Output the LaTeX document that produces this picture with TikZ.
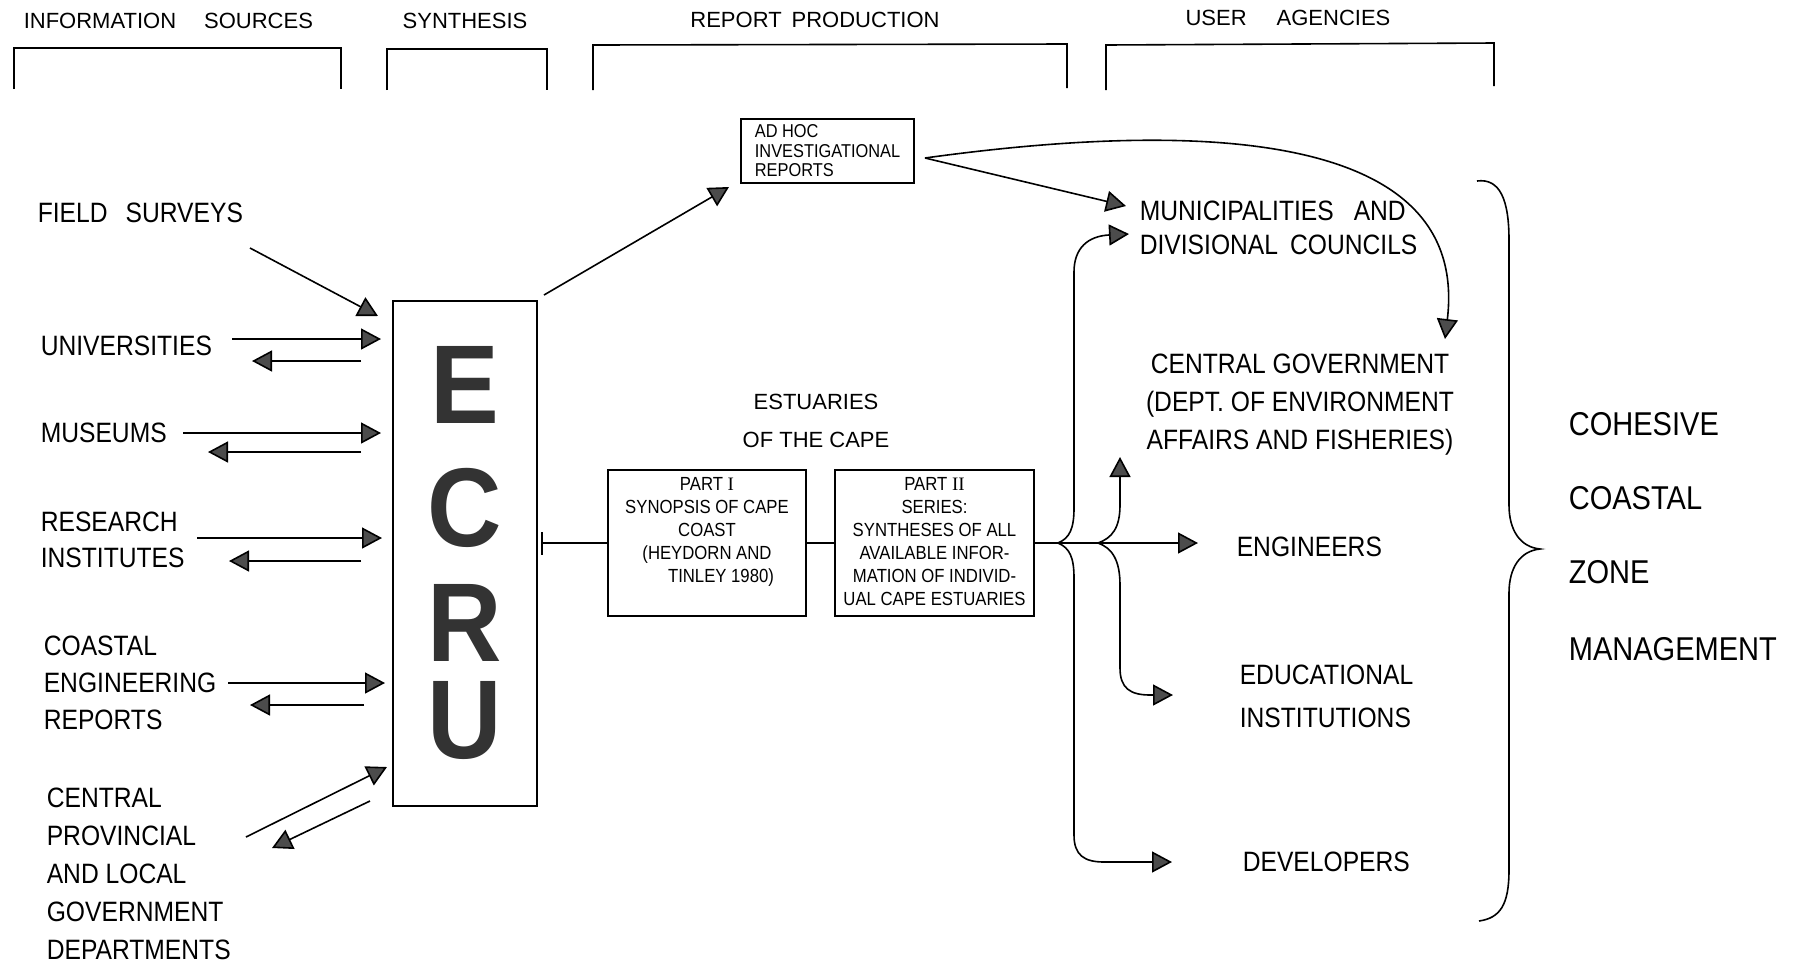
\documentclass[tikz,border=0pt]{standalone}
\usepackage{fontspec}
\setmainfont{Liberation Sans}[FakeStretch=0.88]
\newfontfamily\hfont{Liberation Sans}
\newfontfamily\efont{Liberation Sans}[FakeStretch=0.92]
\newfontfamily\rmnum{Liberation Serif}
\usetikzlibrary{arrows.meta}
\begin{document}
\begin{tikzpicture}[x=0.5pt,y=-0.5pt, line width=0.8pt,
  >={Triangle[length=10pt,width=10.5pt,fill=black!70]},
  lbl/.style={inner sep=0pt, anchor=west, align=left, font=\fontsize{14}{18}\selectfont},
  hdr/.style={inner sep=0pt, font=\hfont\fontsize{11}{13}\selectfont},
  box/.style={draw, inner sep=0pt},
  ecru/.style={draw, inner sep=0pt, align=center, text=black!80, font=\efont\bfseries\fontsize{56}{50}\selectfont},
  big/.style={inner sep=0pt, anchor=west, font=\fontsize{16.5}{20}\selectfont},
  small/.style={inner sep=0pt, font=\fontsize{9.5}{11.5}\selectfont}]

\useasboundingbox (0,0) rectangle (1795,965);

% headers
\node[hdr, anchor=west] (h1) at (23,21) {INFORMATION\hspace{14pt}SOURCES};
\node[hdr] (h2) at (465,21) {SYNTHESIS};
\node[hdr] (h3) at (815,20) {REPORT\hspace{5pt}PRODUCTION};
\node[hdr] (h4) at (1288,18) {USER\hspace{15pt}AGENCIES};

% header brackets
\draw (14,89) -- (14,48) -- (341,48) -- (341,89);
\draw (387,90) -- (387,49) -- (547,49) -- (547,90);
\draw (593,90) -- (593,45) -- (1067,44) -- (1067,88);
\draw (1106,90) -- (1106,45) -- (1494,43) -- (1494,86);

% ECRU
\node[ecru, minimum width=72pt, minimum height=252.5pt] (ecrubox) at (465,553.5) {E\\[11.5pt]C\\[7.5pt]R\\[-1.5pt]U};

% left labels
\node[lbl] (fs) at (37,213) {FIELD\hspace{9pt}SURVEYS};
\node[lbl] (uni) at (40,346) {UNIVERSITIES};
\node[lbl] (mus) at (40,433) {MUSEUMS};
\node[lbl, font=\fontsize{14}{18}\selectfont] (res) at (40,540) {RESEARCH\\INSTITUTES};
\node[lbl, font=\fontsize{14}{18.5}\selectfont] (coa) at (43,683) {COASTAL\\ENGINEERING\\REPORTS};
\node[lbl, font=\fontsize{14}{19}\selectfont] (cen) at (46,874) {CENTRAL\\PROVINCIAL\\AND LOCAL\\GOVERNMENT\\DEPARTMENTS};

% left arrows
\coordinate (fsA) at (250,248); \coordinate (fsB) at (378,316);
\coordinate (uA) at (232,339); \coordinate (uB) at (381,339);
\coordinate (uC) at (361,361); \coordinate (uD) at (252,361);
\coordinate (mA) at (183,433); \coordinate (mB) at (381,433);
\coordinate (mC) at (361,452); \coordinate (mD) at (208,452);
\coordinate (rA) at (197,538); \coordinate (rB) at (382,538);
\coordinate (rC) at (361,561); \coordinate (rD) at (229,561);
\coordinate (cA) at (228,683); \coordinate (cB) at (385,683);
\coordinate (cC) at (364,705); \coordinate (cD) at (250,705);
\coordinate (gA) at (246,837); \coordinate (gB) at (387,767);
\coordinate (gC) at (370,801); \coordinate (gD) at (272,848);
\draw[->] (fsA) -- (fsB);
\draw[->] (uA) -- (uB); \draw[->] (uC) -- (uD);
\draw[->] (mA) -- (mB); \draw[->] (mC) -- (mD);
\draw[->] (rA) -- (rB); \draw[->] (rC) -- (rD);
\draw[->] (cA) -- (cB); \draw[->] (cC) -- (cD);
\draw[->] (gA) -- (gB); \draw[->] (gC) -- (gD);

% ad hoc
\node[box, minimum width=86.5pt, minimum height=32pt, align=left, font=\fontsize{9.3}{9.75}\selectfont] (adhoc) at (827.5,151) {AD HOC\\INVESTIGATIONAL\\REPORTS};
\coordinate (eTop) at (544,295); \coordinate (aIn) at (729,187);
\draw[->] (eTop) -- (aIn);
\coordinate (aOut) at (925,158);
\coordinate (munTip1) at (1126,206);
\coordinate (cgTip) at (1445,339);
\draw[->] (aOut) -- (munTip1);
\draw[->] (aOut) .. controls (1200,120) and (1470,130) .. (cgTip);

% estuaries
\node[hdr, align=center, font=\hfont\fontsize{11}{19}\selectfont] (est) at (816,421) {ESTUARIES\\OF THE CAPE};
\node[box, minimum width=99pt, minimum height=73pt] (p1) at (707,543) {};
\node[small, align=center] (p1t) at (707,532) {PART {\rmnum I}\\SYNOPSIS OF CAPE\\COAST\\(HEYDORN AND\\\hspace*{14pt}TINLEY 1980)};
\node[box, minimum width=99.5pt, minimum height=73pt] (p2) at (934.5,543) {};
\node[small, align=center] (p2t) at (934.5,541.5) {PART {\rmnum II}\\SERIES:\\SYNTHESES OF ALL\\AVAILABLE INFOR-\\MATION OF INDIVID-\\UAL CAPE ESTUARIES};
\coordinate (tbar) at (541,543);
\draw[{Bar[width=11.5pt]}-] (tbar) -- (p1.west);
\draw (p1.east) -- (p2.west);

% user agencies
\node[lbl, font=\fontsize{14}{17}\selectfont] (mun) at (1139,228) {MUNICIPALITIES\hspace{10pt}AND\\DIVISIONAL\hspace{6pt}COUNCILS};
\node[inner sep=0pt, align=center, font=\fontsize{14}{19}\selectfont] (cg) at (1300,405) {CENTRAL GOVERNMENT\\(DEPT.\ OF\ ENVIRONMENT\\AFFAIRS AND\ FISHERIES)};
\node[lbl] (eng) at (1236,547) {ENGINEERS};
\node[lbl, font=\fontsize{14}{21.5}\selectfont] (edu) at (1239,696.5) {EDUCATIONAL\\INSTITUTIONS};
\node[lbl] (dev) at (1242,862) {DEVELOPERS};

\coordinate (j1) at (1058,543);
\coordinate (j2) at (1098,543);
\coordinate (engTip) at (1198,543);
\coordinate (munTip2) at (1129,234);
\coordinate (cgUp) at (1120,457);
\coordinate (eduTip) at (1173,695);
\coordinate (devTip) at (1172,862);
\draw[->] (p2.east) -- (engTip);
\draw[->] (j1) .. controls (1070,538) and (1074,528) .. (1074,508) -- (1074,272) .. controls (1074,248) and (1088,236) .. (munTip2);
\draw[->] (j1) .. controls (1070,548) and (1074,558) .. (1074,578) -- (1074,835) .. controls (1074,855) and (1084,862) .. (1104,862) -- (devTip);
\draw[->] (j2) .. controls (1112,538) and (1120,528) .. (1120,505) -- (cgUp);
\draw[->] (j2) .. controls (1112,548) and (1120,560) .. (1120,585) -- (1120,668) .. controls (1120,688) and (1130,695) .. (1150,695) -- (eduTip);

% brace
\coordinate (brT) at (1477,181);
\coordinate (brM) at (1540,549);
\coordinate (brB) at (1479,921);
\draw (brT) .. controls (1500,178) and (1509,200) .. (1509,240) -- (1509,505) .. controls (1509,530) and (1520,547) .. (brM) .. controls (1520,551) and (1509,568) .. (1509,593) -- (1509,870) .. controls (1509,905) and (1500,918) .. (brB);

\node[big] (coh) at (1568,424) {COHESIVE};
\node[big] (coas) at (1568,498) {COASTAL};
\node[big] (zone) at (1568,572) {ZONE};
\node[big] (mgmt) at (1568,649) {MANAGEMENT};
\end{tikzpicture}
\end{document}
